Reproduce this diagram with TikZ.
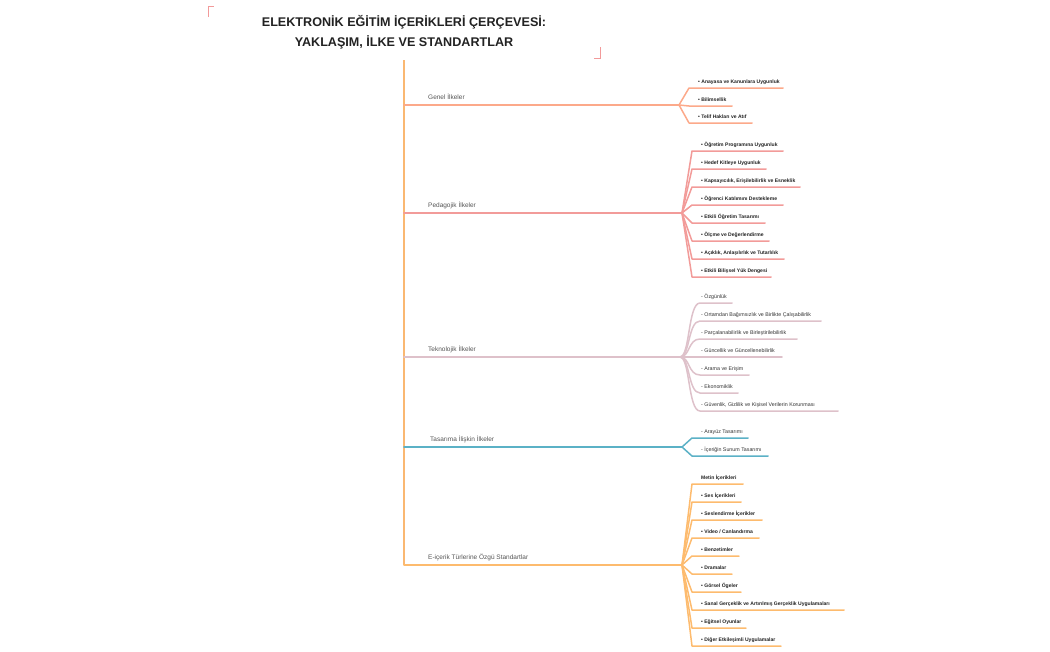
\documentclass[tikz,border=0pt]{standalone}
\usepackage{fontspec}
\setmainfont{Liberation Sans}
\definecolor{ctrunk}{HTML}{FAB872}
\definecolor{cgen}{HTML}{FCA98A}
\definecolor{cped}{HTML}{F29B99}
\definecolor{ctek}{HTML}{DEC1CA}
\definecolor{ctas}{HTML}{5BB1C6}
\definecolor{ceic}{HTML}{FDBB6E}
\definecolor{cmark}{HTML}{F29A9A}
\definecolor{ctitle}{HTML}{222222}
\definecolor{clabel}{HTML}{555555}
\definecolor{citem}{HTML}{222222}
\definecolor{citemb}{HTML}{333333}
\tikzset{
  mainline/.style={line width=2pt, line join=round, line cap=round},
  subline/.style={line width=1.5pt, line join=round, line cap=round},
  branchlabel/.style={anchor=base west, inner sep=0pt, text=clabel, font=\fontsize{6.5}{8}\selectfont},
  itemlabel/.style={anchor=base west, inner sep=0pt, text=citem, font=\bfseries\fontsize{5.05}{6}\selectfont},
  itemlabelb/.style={anchor=base west, inner sep=0pt, text=citemb, font=\fontsize{5.3}{6}\selectfont},
  marker/.style={line width=0.8pt, cmark}
}
\begin{document}
\begin{tikzpicture}[x=1pt,y=-1pt]
\useasboundingbox (0,0) rectangle (1050,651);
% title
\node[align=center, text=ctitle, font=\bfseries\fontsize{12.6}{19.5}\selectfont, inner sep=0pt] (title) at (404,32)
  {ELEKTRONİK EĞİTİM İÇERİKLERİ ÇERÇEVESİ:\\YAKLAŞIM, İLKE VE STANDARTLAR};
\coordinate (mk1a) at (208,17); \coordinate (mk1b) at (208,6); \coordinate (mk1c) at (214,6);
\draw[marker] (mk1a) -- (mk1b) -- (mk1c);
\coordinate (mk2a) at (600,47); \coordinate (mk2b) at (600,58); \coordinate (mk2c) at (594,58);
\draw[marker] (mk2a) -- (mk2b) -- (mk2c);
% trunk
\coordinate (top) at (404,60);
\coordinate (jG) at (404,105);
\coordinate (jP) at (404,213);
\coordinate (jT) at (404,357);
\coordinate (jD) at (404,447);
\coordinate (jE) at (404,565);
\coordinate (fG) at (679,105);
\coordinate (fP) at (682,213);
\coordinate (fT) at (680,357);
\coordinate (fD) at (682,447);
\coordinate (fE) at (682,565);
\draw[mainline, ctrunk, line cap=butt] (top) -- (jE);
\draw[mainline, cgen] (jG) -- (fG);
\draw[mainline, cped] (jP) -- (fP);
\draw[mainline, ctek] (jT) -- (fT);
\draw[mainline, ctas] (jD) -- (fD);
\draw[mainline, ceic] (jE) -- (fE);
\node[branchlabel] (lG) at (428,99) {Genel İlkeler};
\node[branchlabel] (lP) at (428,207) {Pedagojik İlkeler};
\node[branchlabel] (lT) at (428,351) {Teknolojik İlkeler};
\node[branchlabel] (lD) at (430,441) {Tasarıma İlişkin İlkeler};
\node[branchlabel] (lE) at (428,559) {E-içerik Türlerine Özgü Standartlar};
% Genel
\foreach \y/\e/\t [count=\i] in {88/783/{• Anayasa ve Kanunlara Uygunluk},106/732/{• Bilimsellik},123/752/{• Telif Hakları ve Atıf}}{
  \coordinate (g\i s) at (689,\y); \coordinate (g\i e) at (\e,\y);
  \draw[subline, cgen] (fG) -- (g\i s) -- (g\i e);
  \node[itemlabel] (gt\i) at (698,\y-4.5) {\t};
}
% Pedagojik
\foreach \y/\e/\t [count=\i] in {151/783/{• Öğretim Programına Uygunluk},169/766/{• Hedef Kitleye Uygunluk},187/800/{• Kapsayıcılık, Erişilebilirlik ve Esneklik},205/783/{• Öğrenci Katılımını Destekleme},223/765/{• Etkili Öğretim Tasarımı},241/769/{• Ölçme ve Değerlendirme},259/784/{• Açıklık, Anlaşılırlık ve Tutarlılık},277/771/{• Etkili Bilişsel Yük Dengesi}}{
  \coordinate (p\i s) at (692,\y); \coordinate (p\i e) at (\e,\y);
  \draw[subline, cped] (fP) -- (p\i s) -- (p\i e);
  \node[itemlabel] (pt\i) at (701,\y-4.5) {\t};
}
% Teknolojik
\foreach \y/\e/\t [count=\i] in {303/732/{- Özgünlük},321/821/{- Ortamdan Bağımsızlık ve Birlikte Çalışabilirlik},339/797/{- Parçalanabilirlik ve Birleştirilebilirlik},357/782/{- Güncellik ve Güncellenebilirlik},375/749/{- Arama ve Erişim},393/738/{- Ekonomiklik},411/838/{- Güvenlik, Gizlilik ve Kişisel Verilerin Korunması}}{
  \coordinate (t\i c1) at (690,357); \coordinate (t\i c2) at (688,\y);
  \coordinate (t\i s) at (700,\y); \coordinate (t\i e) at (\e,\y);
  \draw[subline, ctek] (fT) .. controls (t\i c1) and (t\i c2) .. (t\i s) -- (t\i e);
  \node[itemlabelb] (tt\i) at (701,\y-4.5) {\t};
}
% Tasarim
\foreach \y/\e/\t [count=\i] in {438/748/{- Arayüz Tasarımı},456/768/{- İçeriğin Sunum Tasarımı}}{
  \coordinate (d\i s) at (692,\y); \coordinate (d\i e) at (\e,\y);
  \draw[subline, ctas] (fD) -- (d\i s) -- (d\i e);
  \node[itemlabelb] (dt\i) at (701,\y-4.5) {\t};
}
% E-icerik
\foreach \y/\e/\t [count=\i] in {484/743/{Metin İçerikleri},502/741/{• Ses İçerikleri},520/762/{• Seslendirme İçerikler},538/759/{• Video / Canlandırma},556/739/{• Benzetimler},574/732/{• Dramalar},592/741/{• Görsel Ögeler},610/844/{• Sanal Gerçeklik ve Artırılmış Gerçeklik Uygulamaları},628/746/{• Eğitsel Oyunlar},646/781/{• Diğer Etkileşimli Uygulamalar}}{
  \coordinate (e\i s) at (692,\y); \coordinate (e\i e) at (\e,\y);
  \draw[subline, ceic] (fE) -- (e\i s) -- (e\i e);
  \node[itemlabel] (et\i) at (701,\y-4.5) {\t};
}
\end{tikzpicture}
\end{document}
